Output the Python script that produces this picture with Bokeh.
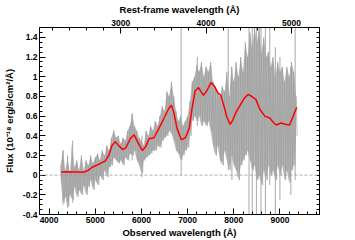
from bokeh.plotting import figure
from bokeh.models import Range1d, LinearAxis, FixedTicker, Span
from bokeh.embed import file_html
from bokeh.resources import INLINE

# ---------------- data ----------------
REDSHIFT = 0.85

GRAY_LAM = [4250, 4300, 4350, 4400, 4450, 4500, 4550, 4600, 4650, 4700,
            4750, 4800, 4850, 4900, 4950, 5000, 5050, 5100, 5150, 5200,
            5250, 5300, 5350, 5400, 5450, 5500, 5550, 5600, 5650, 5700,
            5750, 5800, 5850, 5900, 5950, 6000, 6050, 6100, 6150, 6200,
            6250, 6300, 6350, 6400, 6450, 6500, 6550, 6600, 6650, 6700,
            6750, 6800, 6850, 6900, 6950, 7000, 7050, 7100, 7150, 7200,
            7250, 7300, 7350, 7400, 7450, 7500, 7550, 7600, 7650, 7700,
            7750, 7800, 7850, 7900, 7950, 8000, 8050, 8100, 8150, 8200,
            8250, 8300, 8350, 8400, 8450, 8500, 8550, 8600, 8650, 8700,
            8750, 8800, 8850, 8900, 8950, 9000, 9050, 9100, 9150, 9200,
            9250, 9300, 9350]
GRAY_HI = [0.10, 0.25, 0.05, 0.18, 0.02, 0.30, 0.08, 0.15, 0.05, 0.20,
           0.05, 0.15, 0.10, 0.20, 0.12, 0.18, 0.22, 0.15, 0.25, 0.20,
           0.30, 0.25, 0.38, 0.45, 0.38, 0.40, 0.32, 0.38, 0.35, 0.45,
           0.50, 0.62, 0.50, 0.45, 0.38, 0.35, 0.30, 0.45, 0.40, 0.50,
           0.45, 0.55, 0.50, 0.60, 0.70, 0.65, 0.85, 0.80, 0.95, 0.80,
           0.65, 0.55, 0.60, 0.50, 0.55, 0.60, 0.75, 0.95, 1.00, 1.12,
           1.05, 1.15, 1.00, 1.10, 1.05, 1.15, 0.95, 0.90, 0.85, 0.80,
           0.90, 0.85, 1.05, 0.80, 1.10, 0.95, 1.15, 1.00, 1.20, 1.05,
           1.35, 1.20, 1.45, 1.30, 1.50, 1.35, 1.50, 1.25, 1.40, 1.20,
           1.25, 1.10, 1.20, 1.00, 1.15, 1.05, 1.10, 0.95, 1.10, 1.00,
           1.15, 1.05, 0.80]
GRAY_LO = [-0.05, -0.28, -0.22, -0.32, -0.20, -0.25, -0.12, -0.22, -0.15, -0.20,
           -0.10, -0.20, -0.12, -0.05, -0.15, -0.05, -0.10, 0.00, -0.05, 0.05,
           -0.02, 0.08, 0.10, 0.18, 0.15, 0.12, 0.15, 0.10, 0.18, 0.15,
           0.22, 0.20, 0.25, 0.15, 0.10, 0.02, 0.15, 0.18, 0.20, 0.22,
           0.25, 0.25, 0.30, 0.28, 0.35, 0.38, 0.40, 0.45, 0.42, 0.35,
           0.25, 0.22, 0.15, 0.20, 0.25, 0.28, 0.40, 0.55, 0.60, 0.55,
           0.60, 0.50, 0.55, 0.50, 0.55, 0.45, 0.30, 0.20, 0.30, 0.15,
           0.10, 0.25, 0.15, 0.05, 0.20, 0.10, 0.05, -0.05, 0.10, 0.15,
           0.20, 0.25, 0.15, 0.05, 0.10, -0.05, 0.00, -0.10, 0.05, -0.05,
           0.10, 0.00, 0.05, -0.05, 0.10, 0.00, 0.10, -0.05, 0.05, -0.08,
           0.05, 0.10, 0.40]

SPIKE_LAM = [4300, 4400, 4510, 5800, 6010, 6860, 7210, 7880, 7960, 8330,
             8400, 8490, 8590, 8685, 8780, 8900, 9000, 9236, 9330]
SPIKE_LO = [-0.30, -0.33, -0.28, 0.15, -0.02, 0.00, 0.50, 0.05, -0.05, -0.40,
            -0.40, -0.40, -0.40, -0.40, -0.10, -0.40, -0.25, -0.20, -0.05]
SPIKE_HI = [0.25, 0.20, 0.35, 0.63, 0.40, 1.50, 1.20, 1.50, 1.10, 1.50,
            1.50, 1.50, 1.50, 1.50, 1.50, 1.30, 1.20, 1.10, 1.50]

MODEL_LAM = [4257, 4400, 4600, 4757, 4850, 4935, 5030, 5114, 5221, 5292,
             5363, 5436, 5507, 5592, 5664, 5757, 5843, 5914, 6021, 6092,
             6165, 6272, 6379, 6486, 6593, 6650, 6700, 6771, 6864, 6950,
             7035, 7093, 7163, 7236, 7343, 7414, 7507, 7579, 7650, 7721,
             7807, 7849, 7922, 7978, 8050, 8136, 8243, 8314, 8385, 8479,
             8565, 8672, 8779, 8850, 8921, 9028, 9135, 9208, 9279, 9364]
MODEL_FLUX = [0.033, 0.035, 0.033, 0.030, 0.050, 0.080, 0.100, 0.120, 0.145, 0.200,
              0.300, 0.340, 0.300, 0.260, 0.280, 0.370, 0.410, 0.340, 0.250, 0.290,
              0.370, 0.380, 0.475, 0.575, 0.680, 0.710, 0.640, 0.475, 0.360, 0.380,
              0.475, 0.670, 0.855, 0.890, 0.810, 0.855, 0.940, 0.905, 0.840, 0.810,
              0.670, 0.590, 0.515, 0.560, 0.640, 0.710, 0.790, 0.820, 0.800, 0.770,
              0.670, 0.600, 0.580, 0.540, 0.510, 0.530, 0.515, 0.510, 0.590, 0.690]

X_MAJOR = [4000, 5000, 6000, 7000, 8000, 9000]
X_MINOR = list(range(3800, 10000, 200))
REST_MAJOR = [3000, 4000, 5000]
REST_MINOR = list(range(2000, 5600, 200))
Y_TICKS = [-0.4, -0.2, 0.0, 0.2, 0.4, 0.6, 0.8, 1.0, 1.2, 1.4]
Y_TICK_LABELS = ["-0.4", "-0.2", "0", "0.2", "0.4", "0.6", "0.8", "1", "1.2", "1.4"]
Y_MINOR = [round(-0.4 + 0.05 * i, 2) for i in range(39)]

X_MIN, X_MAX = 3792, 9857
Y_MIN, Y_MAX = -0.4, 1.5

# ---------------- figure ----------------
FONT = "Liberation Sans"
p = figure(width=355, height=240, x_range=Range1d(X_MIN, X_MAX),
           y_range=Range1d(Y_MIN, Y_MAX), output_backend="svg",
           toolbar_location=None, min_border_left=36, min_border_right=36,
           min_border_top=24, min_border_bottom=24)
p.xaxis.visible = False
p.yaxis.visible = False
p.grid.visible = False
p.outline_line_color = "black"
p.outline_line_width = 1
p.background_fill_color = "white"
p.border_fill_color = "white"

p.extra_x_ranges = {"rest": Range1d(X_MIN / (1 + REDSHIFT), X_MAX / (1 + REDSHIFT))}


def style(ax):
    ax.axis_line_color = "black"
    ax.major_tick_line_color = "black"
    ax.minor_tick_line_color = "black"
    ax.major_tick_in = 6
    ax.major_tick_out = 0
    ax.minor_tick_in = 3
    ax.minor_tick_out = 0
    ax.major_label_text_font = FONT
    ax.major_label_text_font_style = "bold"
    ax.major_label_text_font_size = "8.5px"
    ax.major_label_text_color = "black"
    ax.major_label_text_line_height = 0.9
    ax.major_label_standoff = 2
    ax.axis_label_text_font = FONT
    ax.axis_label_text_font_style = "bold"
    ax.axis_label_text_font_size = "9.5px"
    ax.axis_label_text_color = "black"
    ax.axis_label_text_line_height = 0.9
    ax.axis_label_standoff = 1


xb = LinearAxis(axis_label="Observed wavelength (Å)",
                ticker=FixedTicker(ticks=X_MAJOR, minor_ticks=X_MINOR))
style(xb)
p.add_layout(xb, "below")

xt = LinearAxis(x_range_name="rest", axis_label="Rest-frame wavelength (Å)",
                ticker=FixedTicker(ticks=REST_MAJOR, minor_ticks=REST_MINOR))
style(xt)
xt.axis_label_standoff = 2
p.add_layout(xt, "above")

yl = LinearAxis(axis_label="Flux (10⁻¹⁸ erg/s/cm²/Å)",
                ticker=FixedTicker(ticks=Y_TICKS, minor_ticks=Y_MINOR),
                major_label_overrides={t: s for t, s in zip(Y_TICKS, Y_TICK_LABELS)})
style(yl)
yl.axis_label_standoff = 5
p.add_layout(yl, "left")

# right axis: ticks only, no labels
yr = LinearAxis(ticker=FixedTicker(ticks=[], minor_ticks=Y_MINOR))
style(yr)
p.add_layout(yr, "right")

# gray spectrum band
p.varea(x=GRAY_LAM, y1=GRAY_LO, y2=GRAY_HI, fill_color="#b6b6b6", fill_alpha=1.0)
# jagged texture: zig-zag between the read envelope values
zz_x, zz_y = [], []
for i, lam in enumerate(GRAY_LAM):
    zz_x += [lam, lam + 25]
    zz_y += [GRAY_HI[i], GRAY_LO[i]]
p.line(zz_x, zz_y, line_color="#9c9c9c", line_width=0.6)
p.segment(x0=SPIKE_LAM, y0=SPIKE_LO, x1=SPIKE_LAM, y1=SPIKE_HI,
          line_color="#a8a8a8", line_width=1)

# zero line
p.add_layout(Span(location=0, dimension="width", line_color="#999999",
                  line_dash="3 2", line_width=0.8))

# model
p.line(MODEL_LAM, MODEL_FLUX, line_color="#ff0000", line_width=1.5)

open("out.html", "w").write(file_html(p, INLINE))
